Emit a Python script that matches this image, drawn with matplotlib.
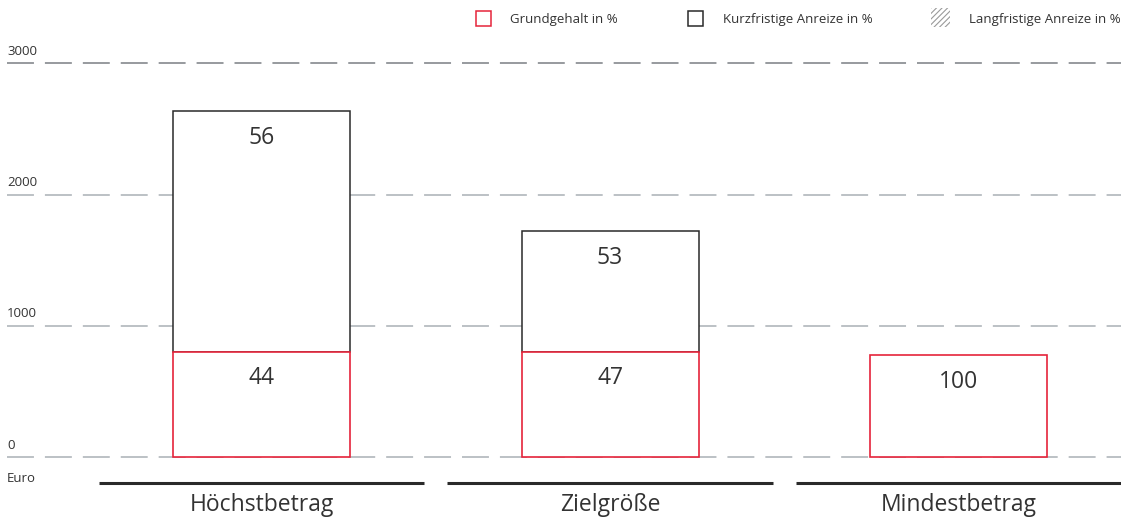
import matplotlib
matplotlib.use("Agg")
import matplotlib.pyplot as plt
from matplotlib.patches import Rectangle
import numpy as np

plt.rcParams['font.family'] = ['Open Sans', 'DejaVu Sans']
plt.rcParams['hatch.color'] = '#9a9a9a'
plt.rcParams['hatch.linewidth'] = 0.8

# ---- data ----
categories = ["Höchstbetrag", "Zielgröße", "Mindestbetrag"]
grundgehalt = [805, 805, 775]          # Euro (base salary)
kurzfristig = [1835, 915, 0]            # Euro (short-term incentives)
pct_grund = [44, 47, 100]
pct_kurz = [56, 53, None]
yticks = [0, 1000, 2000, 3000]
legend_labels = ["Grundgehalt in %", "Kurzfristige Anreize in %", "Langfristige Anreize in %"]
unit_label = "Euro"

RED = "#e5243b"
DARK = "#2a2a2a"
GRID = "#aab0b5"
GRID_TOP = "#7a7f84"
TXT = "#333333"

W, H = 1121, 517
fig = plt.figure(figsize=(W / 100, H / 100), dpi=100)
ax = fig.add_axes([0, 0, 1, 1])
ax.set_axis_off()

x = np.arange(len(categories))
ax.set_xlim(-0.7504, 2.466)
ax.set_ylim(-455, 3482)

# grid lines
for yv in yticks:
    ax.plot([-0.730, 2.466], [yv, yv], color=GRID_TOP if yv == max(yticks) else GRID, lw=1.1,
            linestyle=(0, (19.4 / 1.1, 7.9 / 1.1)), zorder=1, solid_capstyle='butt')
    ax.annotate(str(yv), (-0.730, yv), xytext=(0, 4), textcoords='offset points',
                ha='left', va='bottom', fontsize=9.5, color=TXT)
ax.annotate(unit_label, (-0.730, 0), xytext=(0, -10.5), textcoords='offset points',
            ha='left', va='top', fontsize=9.5, color=TXT)

bw = 0.508
ax.bar(x, kurzfristig, width=bw, bottom=grundgehalt, facecolor='white',
       edgecolor=[DARK if k > 0 else 'none' for k in kurzfristig], lw=1.1, zorder=2)
ax.bar(x, grundgehalt, width=bw, facecolor='white', edgecolor=RED, lw=1.2, zorder=3)

for i in range(len(categories)):
    ax.annotate(str(pct_grund[i]), (x[i], grundgehalt[i]), xytext=(0, -19.4),
                textcoords='offset points', ha='center', va='center',
                fontsize=16.5, color=TXT, zorder=5)
    if pct_kurz[i] is not None:
        top = grundgehalt[i] + kurzfristig[i]
        ax.annotate(str(pct_kurz[i]), (x[i], top), xytext=(0, -19.4),
                    textcoords='offset points', ha='center', va='center',
                    fontsize=16.5, color=TXT, zorder=5)
    # category underline + label
    ax.plot([x[i] - 0.4665, x[i] + 0.4665], [-198, -198], color=DARK, lw=2.2,
            zorder=3, solid_capstyle='butt', clip_on=False)
    ax.annotate(categories[i], (x[i], -198), xytext=(0, -16), textcoords='offset points',
                ha='center', va='center', fontsize=16.5, color=TXT)

# legend (manual, figure-pixel placement)
def fx(px):
    return px / W

def fy(py):
    return 1 - py / H

fig.patches.append(Rectangle((fx(476), fy(26)), 15 / W, 15 / H, transform=fig.transFigure,
                             facecolor='white', edgecolor=RED, lw=1.1))
fig.patches.append(Rectangle((fx(688), fy(26)), 15 / W, 15 / H, transform=fig.transFigure,
                             facecolor='white', edgecolor=DARK, lw=1.1))
fig.patches.append(Rectangle((fx(931), fy(27)), 19 / W, 19 / H, transform=fig.transFigure,
                             facecolor='white', edgecolor='#9a9a9a', hatch='//////', lw=0))

fig.text(fx(510), fy(19), legend_labels[0], ha='left', va='center', fontsize=9.5, color=TXT)
fig.text(fx(723), fy(19), legend_labels[1], ha='left', va='center', fontsize=9.5, color=TXT)
fig.text(fx(1121), fy(19), legend_labels[2], ha='right', va='center', fontsize=9.5, color=TXT)

fig.savefig("out.png", dpi=100, facecolor='white')
